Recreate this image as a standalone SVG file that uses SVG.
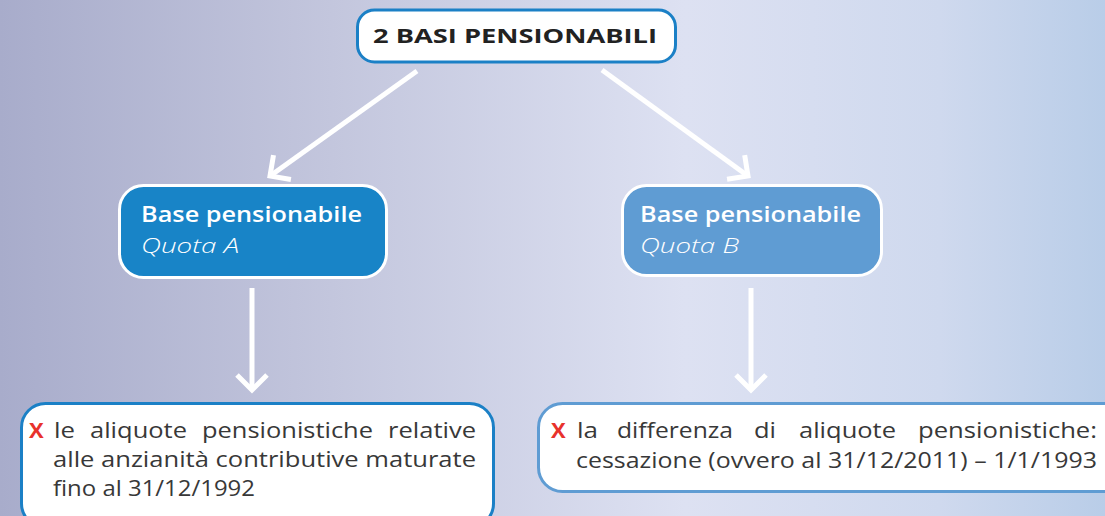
<svg xmlns="http://www.w3.org/2000/svg" width="1105" height="516" viewBox="0 0 1105 516">
  <defs>
    <linearGradient id="bg" x1="0" y1="0" x2="1" y2="0">
      <stop offset="0" stop-color="#a8accb"/>
      <stop offset="0.3" stop-color="#c3c6dd"/>
      <stop offset="0.62" stop-color="#dde1f2"/>
      <stop offset="0.85" stop-color="#cfd9ee"/>
      <stop offset="1" stop-color="#b9cde8"/>
    </linearGradient>
    <marker id="chev" viewBox="-22 -22 26 44" refX="0" refY="0" markerWidth="26" markerHeight="44" markerUnits="userSpaceOnUse" orient="auto">
      <path d="M-15,-15 L0,0 L-15,15" fill="none" stroke="#ffffff" stroke-width="5"/>
    </marker>
    <style>
      .conn { stroke:#ffffff; stroke-width:5; fill:none; marker-end:url(#chev); }
      .title { font-family:"Open Sans","Liberation Sans",sans-serif; font-weight:700; font-size:20px; fill:#222222; }
      .head { font-family:"Open Sans","Liberation Sans",sans-serif; font-weight:600; font-size:21px; fill:#ffffff; }
      .sub { font-family:"Open Sans","Liberation Sans",sans-serif; font-style:italic; font-weight:300; font-size:21px; fill:#ffffff; }
      .body { font-family:"Open Sans","Liberation Sans",sans-serif; font-weight:400; font-size:22px; fill:#383838; }
      .x { font-family:"Open Sans","Liberation Sans",sans-serif; font-weight:700; font-size:22px; fill:#e8322c; }
    </style>
  </defs>
  <rect x="0" y="0" width="1105" height="516" fill="url(#bg)"/>

  <g id="connectors">
    <line class="conn" x1="417" y1="71" x2="270" y2="176"/>
    <line class="conn" x1="602" y1="70" x2="748" y2="176"/>
    <line class="conn" x1="252" y1="288" x2="252" y2="390"/>
    <line class="conn" x1="751" y1="288" x2="751" y2="390"/>
  </g>

  <g id="root">
    <rect x="357.5" y="10" width="318" height="52" rx="17" fill="#ffffff" stroke="#1b80c6" stroke-width="3"/>
    <text class="title" x="373" y="43" textLength="284" lengthAdjust="spacingAndGlyphs">2 BASI PENSIONABILI</text>
  </g>

  <g id="quotaA">
    <rect x="119.5" y="185.5" width="267" height="92" rx="24" fill="#1884c7" stroke="#ffffff" stroke-width="3"/>
    <text class="head" x="141" y="222" textLength="221" lengthAdjust="spacingAndGlyphs">Base pensionabile</text>
    <text class="sub" x="141" y="253" textLength="98" lengthAdjust="spacingAndGlyphs">Quota A</text>
  </g>

  <g id="quotaB">
    <rect x="622.5" y="185.5" width="259" height="90" rx="24" fill="#5f9cd3" stroke="#ffffff" stroke-width="3"/>
    <text class="head" x="640" y="222" textLength="221" lengthAdjust="spacingAndGlyphs">Base pensionabile</text>
    <text class="sub" x="640" y="253" textLength="99" lengthAdjust="spacingAndGlyphs">Quota B</text>
  </g>

  <g id="descA">
    <rect x="21.5" y="403.5" width="472" height="124" rx="24" fill="#ffffff" stroke="#1b80c6" stroke-width="3"/>
    <text class="x" x="29" y="438">X</text>
    <text class="body" x="54" y="438" textLength="21" lengthAdjust="spacingAndGlyphs">le</text>
    <text class="body" x="90" y="438" textLength="97" lengthAdjust="spacingAndGlyphs">aliquote</text>
    <text class="body" x="202" y="438" textLength="171" lengthAdjust="spacingAndGlyphs">pensionistiche</text>
    <text class="body" x="388" y="438" textLength="88" lengthAdjust="spacingAndGlyphs">relative</text>
    <text class="body" x="53" y="467" textLength="423" lengthAdjust="spacingAndGlyphs">alle anzianità contributive maturate</text>
    <text class="body" x="53" y="496" textLength="202" lengthAdjust="spacingAndGlyphs">fino al 31/12/1992</text>
  </g>

  <g id="descB">
    <rect x="538.5" y="403.5" width="590" height="88" rx="24" fill="#ffffff" stroke="#5f9cd3" stroke-width="3"/>
    <text class="x" x="551" y="438">X</text>
    <text class="body" x="577" y="438" textLength="21" lengthAdjust="spacingAndGlyphs">la</text>
    <text class="body" x="617" y="438" textLength="116" lengthAdjust="spacingAndGlyphs">differenza</text>
    <text class="body" x="754" y="438" textLength="22" lengthAdjust="spacingAndGlyphs">di</text>
    <text class="body" x="799" y="438" textLength="97" lengthAdjust="spacingAndGlyphs">aliquote</text>
    <text class="body" x="918" y="438" textLength="179" lengthAdjust="spacingAndGlyphs">pensionistiche:</text>
    <text class="body" x="576" y="468" textLength="521" lengthAdjust="spacingAndGlyphs">cessazione (ovvero al 31/12/2011) – 1/1/1993</text>
  </g>
</svg>
